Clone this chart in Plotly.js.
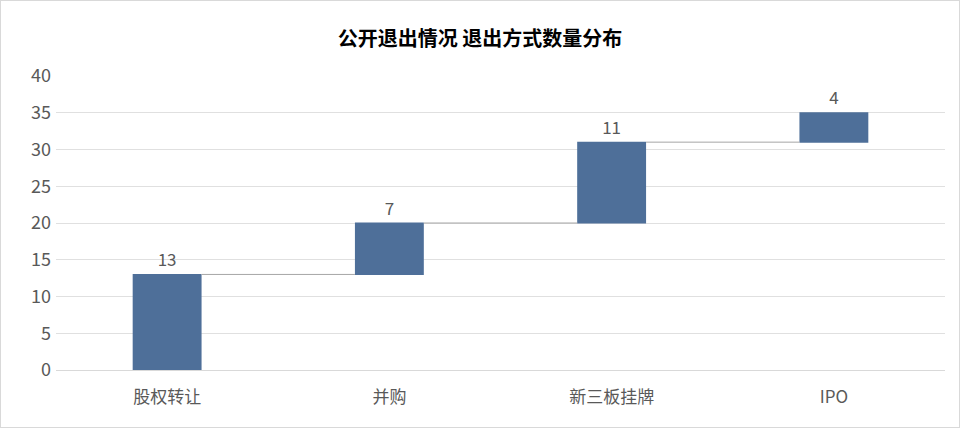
<!DOCTYPE html>
<html><head><meta charset="utf-8">
<script src="https://cdn.plot.ly/plotly-3.0.1.min.js"></script>
<style>
html,body{margin:0;padding:0;background:#fff;}
#chart{width:960px;height:428px;box-sizing:border-box;border:1px solid #d9d9d9;}
</style></head>
<body><div id="chart"></div>
<script>
const categories = ["股权转让", "并购", "新三板挂牌", "IPO"];
const values = [13, 7, 11, 4];
const yTicks = [0, 5, 10, 15, 20, 25, 30, 35, 40];

const trace = {
  type: "waterfall",
  x: categories,
  y: values,
  measure: categories.map(() => "relative"),
  text: values.map(String),
  textposition: "outside",
  textfont: {family: "Noto Sans CJK SC", size: 17, color: "#595959"},
  increasing: {marker: {color: "#4E6F99", line: {color: "#4E6F99", width: 0}}},
  connector: {line: {color: "#A6A6A6", width: 1}, mode: "between"},
  width: 0.31,
  cliponaxis: false,
  hoverinfo: "none"
};

const layout = {
  width: 958, height: 426,
  margin: {l: 55, r: 14, t: 75, b: 57},
  paper_bgcolor: "#fff", plot_bgcolor: "#fff",
  title: {text: "<b>公开退出情况 退出方式数量分布</b>", x: 0.5, xanchor: "center", y: 0.91, yanchor: "middle",
          font: {family: "Noto Sans CJK SC", size: 20, color: "#000"}},
  showlegend: false,
  xaxis: {showgrid: false, showline: true, linecolor: "#d9d9d9", linewidth: 1, ticks: "",
          ticklabelstandoff: 12,
          tickfont: {family: "Noto Sans CJK SC", size: 17, color: "#595959"}},
  yaxis: {range: [0, 40], tickvals: yTicks, ticktext: yTicks.map(String), showgrid: true,
          gridcolor: "#e0e0e0", gridwidth: 1, zeroline: false, showline: false, ticks: "",
          ticklen: 0, ticklabelstandoff: 4, tickfont: {family: "Noto Sans CJK SC", size: 18, color: "#595959"}}
};

Plotly.newPlot("chart", [trace], layout, {displayModeBar: false, staticPlot: true});
</script></body></html>
